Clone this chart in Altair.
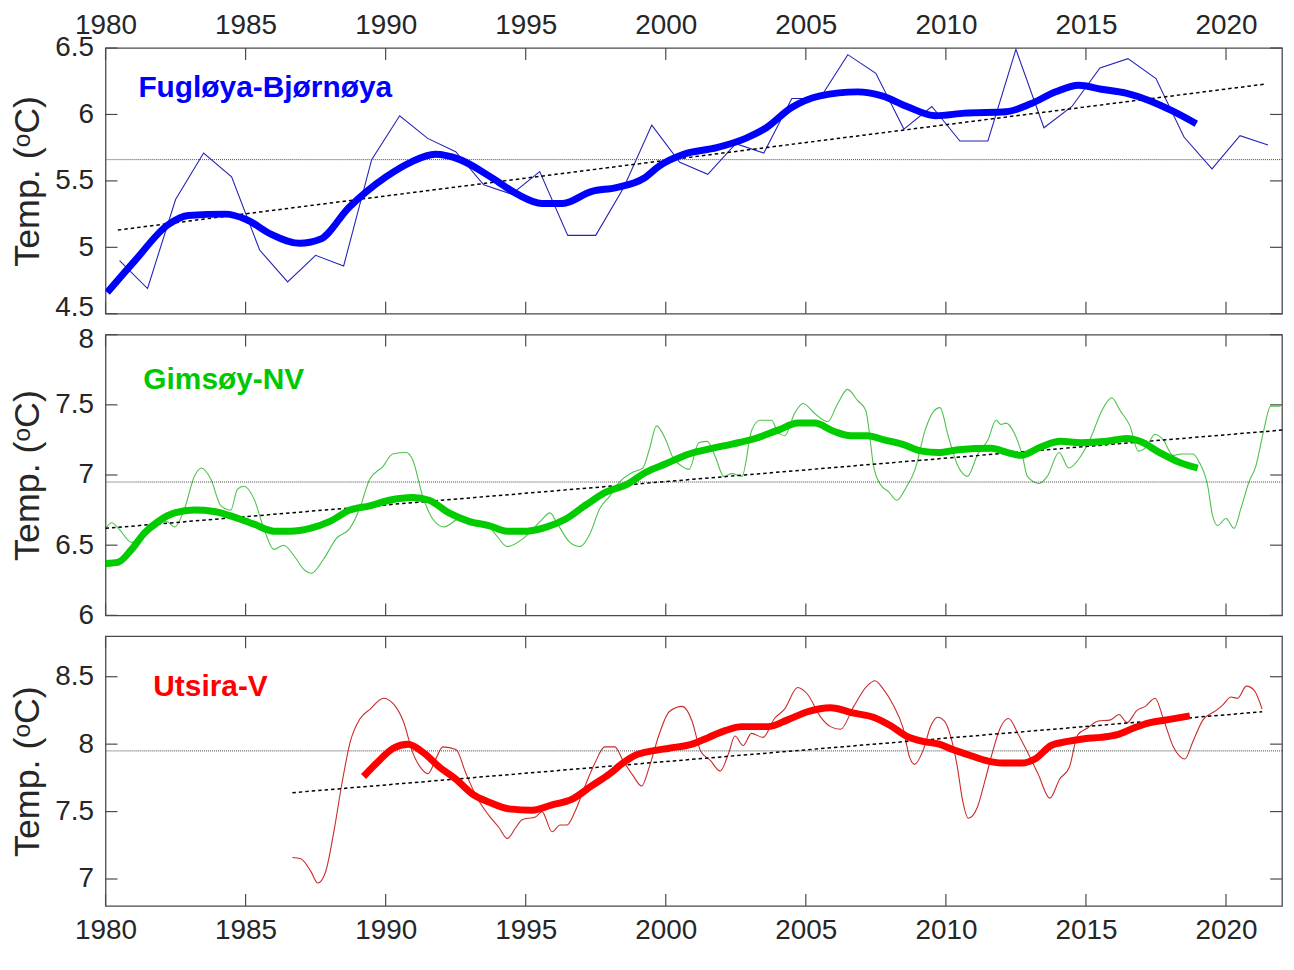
import altair as alt
import pandas as pd

FONT = "Liberation Sans"

# ---------------- x axis ----------------
x_ticks = [1980, 1985, 1990, 1995, 2000, 2005, 2010, 2015, 2020]
x_domain = [1980, 2022]

# ---------------- Panel 1: Fugløya-Bjørnøya ----------------
fb_name = "Fugløya-Bjørnøya"
fb_thin_x = [1980.5, 1981.5, 1982.5, 1983.5, 1984.5, 1985.5, 1986.5, 1987.5, 1988.5, 1989.5,
             1990.5, 1991.5, 1992.5, 1993.5, 1994.5, 1995.5, 1996.5, 1997.5, 1998.5, 1999.5,
             2000.5, 2001.5, 2002.5, 2003.5, 2004.5, 2005.5, 2006.5, 2007.5, 2008.5, 2009.5,
             2010.5, 2011.5, 2012.5, 2013.5, 2014.5, 2015.5, 2016.5, 2017.5, 2018.5, 2019.5,
             2020.5, 2021.5]
fb_thin_y = [4.90, 4.69, 5.36, 5.71, 5.53, 4.98, 4.74, 4.94, 4.86, 5.66,
             5.99, 5.82, 5.72, 5.47, 5.40, 5.57, 5.09, 5.09, 5.45, 5.92,
             5.64, 5.55, 5.78, 5.71, 6.12, 6.12, 6.45, 6.31, 5.89, 6.06,
             5.80, 5.80, 6.49, 5.90, 6.06, 6.35, 6.42, 6.27, 5.83, 5.59,
             5.84, 5.77]
fb_smooth_x = [1980.06, 1981.05, 1982.23, 1982.96, 1984.28, 1985.02, 1985.9, 1986.93, 1987.66,
               1988.69, 1990.01, 1990.89, 1991.77, 1992.65, 1993.82, 1994.7, 1995.58, 1996.32,
               1997.34, 1998.23, 1999.22, 1999.75, 2000.64, 2001.82, 2002.85, 2003.59, 2004.48,
               2005.51, 2006.84, 2007.72, 2008.61, 2009.64, 2010.67, 2012.15, 2013.03, 2013.92,
               2014.74, 2015.55, 2016.43, 2017.32, 2018.05, 2018.94]
fb_smooth_y = [4.66, 4.90, 5.17, 5.24, 5.25, 5.21, 5.10, 5.03, 5.06,
               5.30, 5.53, 5.64, 5.70, 5.66, 5.52, 5.40, 5.33, 5.33,
               5.42, 5.45, 5.52, 5.61, 5.70, 5.75, 5.82, 5.90, 6.05,
               6.14, 6.17, 6.14, 6.06, 5.99, 6.01, 6.02, 6.08, 6.17,
               6.22, 6.19, 6.16, 6.10, 6.03, 5.93]
fb_trend_x = [1980.44, 2021.45]
fb_trend_y = [5.13, 6.23]
fb_mean = [5.66]
fb_y_ticks = [4.5, 5, 5.5, 6, 6.5]
fb_y_domain = [4.5, 6.5]

# ---------------- Panel 2: Gimsøy-NV ----------------
gi_name = "Gimsøy-NV"
gi_thin_x = [1980.01, 1980.22, 1980.46, 1980.93, 1981.40, 1981.76, 1982.17, 1982.47, 1982.82, 1983.17,
             1983.43, 1983.76, 1984.12, 1984.47, 1984.71, 1984.94, 1985.30, 1985.65, 1986.01, 1986.36,
             1986.71, 1987.07, 1987.36, 1987.78, 1988.25, 1988.72, 1989.07, 1989.43, 1989.90, 1990.25,
             1990.73, 1990.96, 1991.32, 1991.67, 1992.08, 1992.73, 1993.30, 1993.75, 1993.99, 1994.34,
             1994.93, 1995.52, 1995.87, 1996.11, 1996.58, 1996.94, 1997.29, 1997.64, 1998.00, 1998.35,
             1998.82, 1999.18, 1999.41, 1999.67, 2000.00, 2000.24, 2000.59, 2000.83, 2001.18, 2001.48,
             2001.77, 2002.07, 2002.36, 2002.72, 2003.07, 2003.37, 2003.78, 2004.01, 2004.25, 2004.60,
             2004.90, 2005.31, 2005.78, 2006.14, 2006.49, 2006.85, 2007.14, 2007.44, 2007.67, 2007.96,
             2008.25, 2008.55, 2008.90, 2009.26, 2009.55, 2009.79, 2010.08, 2010.44, 2010.77, 2011.14,
             2011.50, 2011.79, 2011.97, 2012.15, 2012.44, 2012.74, 2012.91, 2013.33, 2013.62, 2014.04,
             2014.39, 2014.80, 2015.16, 2015.57, 2015.92, 2016.22, 2016.57, 2016.87, 2017.16, 2017.46,
             2017.76, 2018.11, 2018.40, 2018.82, 2019.05, 2019.35, 2019.52, 2019.70, 2020.00, 2020.29,
             2020.53, 2020.82, 2021.06, 2021.35, 2021.59, 2021.95]
gi_thin_y = [6.62, 6.66, 6.62, 6.52, 6.57, 6.62, 6.67, 6.63, 6.76, 6.99,
             7.05, 6.97, 6.78, 6.75, 6.90, 6.92, 6.83, 6.62, 6.47, 6.50,
             6.43, 6.33, 6.30, 6.40, 6.55, 6.62, 6.76, 6.97, 7.06, 7.15,
             7.16, 7.11, 6.85, 6.69, 6.63, 6.70, 6.66, 6.62, 6.56, 6.49,
             6.55, 6.67, 6.73, 6.66, 6.52, 6.49, 6.58, 6.76, 6.85, 6.95,
             7.02, 7.05, 7.18, 7.35, 7.25, 7.13, 7.06, 7.04, 7.23, 7.24,
             7.13, 6.99, 7.01, 6.99, 7.32, 7.39, 7.39, 7.30, 7.28, 7.44,
             7.51, 7.44, 7.38, 7.51, 7.61, 7.53, 7.46, 7.04, 6.93, 6.88,
             6.82, 6.90, 7.04, 7.32, 7.45, 7.48, 7.28, 7.06, 6.99, 7.15,
             7.25, 7.39, 7.36, 7.37, 7.30, 7.13, 6.99, 6.94, 6.99, 7.16,
             7.05, 7.13, 7.26, 7.46, 7.55, 7.46, 7.35, 7.17, 7.20, 7.29,
             7.25, 7.14, 7.15, 7.15, 7.09, 6.92, 6.71, 6.64, 6.69, 6.62,
             6.76, 6.95, 7.06, 7.32, 7.49, 7.49]
gi_smooth_x = [1980.01, 1980.46, 1980.93, 1981.40, 1981.88, 1982.47, 1983.17, 1983.88, 1984.59,
               1985.30, 1986.01, 1986.60, 1987.30, 1988.01, 1988.72, 1989.43, 1990.13, 1990.96,
               1991.55, 1992.26, 1992.97, 1993.68, 1994.34, 1995.05, 1995.76, 1996.46, 1997.17,
               1997.88, 1998.58, 1999.29, 2000.00, 2000.83, 2001.65, 2002.36, 2003.19, 2004.01,
               2004.72, 2005.31, 2006.02, 2006.61, 2007.20, 2007.80, 2008.43, 2009.14, 2009.73,
               2010.44, 2011.62, 2012.21, 2012.68, 2013.39, 2014.09, 2014.80, 2015.75, 2016.45,
               2016.93, 2017.63, 2018.34, 2018.99]
gi_smooth_y = [6.37, 6.38, 6.47, 6.59, 6.67, 6.73, 6.75, 6.74, 6.70,
               6.65, 6.60, 6.60, 6.62, 6.67, 6.75, 6.78, 6.82, 6.84,
               6.82, 6.73, 6.67, 6.64, 6.60, 6.60, 6.63, 6.69, 6.79,
               6.88, 6.93, 7.02, 7.08, 7.15, 7.19, 7.22, 7.26, 7.32,
               7.37, 7.37, 7.31, 7.28, 7.28, 7.25, 7.22, 7.17, 7.16,
               7.18, 7.19, 7.16, 7.14, 7.20, 7.24, 7.23, 7.24, 7.26,
               7.24, 7.16, 7.09, 7.05]
gi_trend_x = [1980.0, 2022.0]
gi_trend_y = [6.62, 7.32]
gi_mean = [6.95]
gi_y_ticks = [6, 6.5, 7, 7.5, 8]
gi_y_domain = [6, 8]

# ---------------- Panel 3: Utsira-V ----------------
ut_name = "Utsira-V"
ut_thin_x = [1986.67, 1986.97, 1987.32, 1987.58, 1987.85, 1988.15, 1988.44, 1988.74, 1989.09, 1989.45,
             1989.92, 1990.27, 1990.63, 1990.98, 1991.27, 1991.51, 1991.81, 1992.04, 1992.51, 1992.87,
             1993.22, 1993.69, 1994.05, 1994.34, 1994.64, 1994.87, 1995.35, 1995.58, 1995.94, 1996.23,
             1996.47, 1996.76, 1997.12, 1997.47, 1997.82, 1998.18, 1998.47, 1998.82, 1999.14, 1999.41,
             1999.76, 2000.12, 2000.59, 2000.94, 2001.24, 2001.59, 2001.94, 2002.24, 2002.47, 2002.76,
             2003.06, 2003.47, 2003.88, 2004.24, 2004.71, 2005.06, 2005.53, 2005.88, 2006.24, 2006.71,
             2007.18, 2007.47, 2007.76, 2008.12, 2008.47, 2008.71, 2008.88, 2009.18, 2009.47, 2009.71,
             2009.95, 2010.18, 2010.41, 2010.59, 2010.80, 2011.12, 2011.41, 2011.65, 2011.94, 2012.24,
             2012.59, 2012.94, 2013.29, 2013.71, 2014.06, 2014.41, 2014.71, 2015.06, 2015.41, 2015.88,
             2016.18, 2016.47, 2016.82, 2017.12, 2017.47, 2017.76, 2018.12, 2018.53, 2018.82, 2019.18,
             2019.65, 2019.88, 2020.18, 2020.41, 2020.73, 2021.00, 2021.29]
ut_thin_y = [7.16, 7.15, 7.06, 6.97, 7.05, 7.35, 7.71, 8.02, 8.19, 8.26,
             8.34, 8.30, 8.17, 7.93, 7.82, 7.78, 7.90, 7.98, 7.96, 7.78,
             7.62, 7.47, 7.38, 7.30, 7.38, 7.44, 7.46, 7.50, 7.35, 7.40,
             7.40, 7.50, 7.69, 7.86, 7.98, 7.98, 7.88, 7.77, 7.69, 7.83,
             8.07, 8.24, 8.28, 8.17, 7.95, 7.88, 7.80, 7.93, 8.06, 7.99,
             8.08, 8.05, 8.19, 8.26, 8.42, 8.37, 8.20, 8.13, 8.11, 8.28,
             8.43, 8.47, 8.41, 8.29, 8.12, 7.90, 7.85, 7.95, 8.14, 8.20,
             8.17, 8.05, 7.83, 7.59, 7.45, 7.53, 7.74, 7.93, 8.12, 8.19,
             8.07, 7.93, 7.78, 7.60, 7.74, 7.83, 8.07, 8.12, 8.17, 8.18,
             8.22, 8.16, 8.25, 8.28, 8.34, 8.19, 7.98, 7.89, 8.02, 8.18,
             8.25, 8.29, 8.35, 8.34, 8.43, 8.40, 8.26]
ut_smooth_x = [1989.21, 1989.68, 1990.27, 1990.80, 1991.33, 1991.92, 1992.51, 1993.10, 1993.69,
               1994.40, 1995.23, 1995.94, 1996.64, 1997.35, 1998.00, 1998.47, 1998.94, 1999.53,
               2000.12, 2000.94, 2001.53, 2002.12, 2002.71, 2003.65, 2004.35, 2005.06, 2005.88,
               2006.71, 2007.41, 2008.00, 2008.59, 2009.18, 2009.76, 2010.24, 2010.82, 2011.41,
               2012.00, 2012.71, 2013.18, 2013.76, 2014.35, 2014.94, 2015.53, 2016.12, 2016.71,
               2017.29, 2017.88, 2018.71]
ut_smooth_y = [7.76, 7.86, 7.97, 8.00, 7.94, 7.83, 7.74, 7.63, 7.57,
               7.52, 7.51, 7.55, 7.59, 7.69, 7.78, 7.86, 7.92, 7.95,
               7.97, 8.00, 8.05, 8.10, 8.13, 8.13, 8.18, 8.24, 8.27,
               8.23, 8.20, 8.14, 8.06, 8.02, 8.00, 7.96, 7.92, 7.88,
               7.86, 7.86, 7.89, 7.99, 8.02, 8.04, 8.05, 8.07, 8.12,
               8.16, 8.18, 8.21]
ut_trend_x = [1986.67, 2021.29]
ut_trend_y = [7.64, 8.24]
ut_mean = [7.95]
ut_y_ticks = [7, 7.5, 8, 8.5]
ut_y_domain = [6.8, 8.8]

W = 1182
AXIS_COLOR = "#262626"
FRAME = "#4a4a4a"
TICK_LEN = 12
Y_TITLE = "Temp. (ᵒC)"


def panel(name, thin_x, thin_y, sm_x, sm_y, tr_x, tr_y, mean, yticks, ydomain, height,
          thick_color, thin_color, label_color, thin_interp, label_dx, label_dy, x_orient,
          label_offset):
    xs = alt.Scale(domain=x_domain, nice=False, zero=False)
    ys = alt.Scale(domain=ydomain, nice=False, zero=False)

    thin_df = pd.DataFrame({"x": thin_x, "y": thin_y})
    sm_df = pd.DataFrame({"x": sm_x, "y": sm_y})
    tr_df = pd.DataFrame({"x": tr_x, "y": tr_y})
    mean_df = pd.DataFrame({"y": mean})
    yt_df = pd.DataFrame({"y": yticks})
    xt_df = pd.DataFrame({"x": x_ticks})
    name_df = pd.DataFrame({"name": [name]})

    if x_orient is None:
        x_axis = None
    else:
        x_axis = alt.Axis(orient=x_orient, values=x_ticks, format="d", title=None,
                          labelPadding=9 if x_orient == "top" else 11)
    y_axis = alt.Axis(values=yticks, format="~g", title=Y_TITLE, labelPadding=12,
                      titlePadding=8, labelOffset=label_offset)

    X = alt.X("x:Q", scale=xs, axis=x_axis, title=None)
    Y = alt.Y("y:Q", scale=ys, axis=y_axis, title=Y_TITLE)

    mean_rule = alt.Chart(mean_df).mark_rule(
        color="#444444", strokeWidth=1, strokeDash=[1, 1]
    ).encode(y=Y)

    trend = alt.Chart(tr_df).mark_line(
        color="black", strokeWidth=1.5, strokeDash=[3.5, 3]
    ).encode(x=X, y=Y)

    thin = alt.Chart(thin_df).mark_line(
        color=thin_color, strokeWidth=1.1, interpolate=thin_interp, clip=True
    ).encode(x=X, y=Y)

    thick = alt.Chart(sm_df).mark_line(
        color=thick_color, strokeWidth=7, interpolate="monotone", clip=True
    ).encode(x=X, y=Y)

    yt_left = alt.Chart(yt_df).mark_rule(color=FRAME, strokeWidth=1.2).encode(
        y=Y, x=alt.value(0), x2=alt.value(TICK_LEN))
    yt_right = alt.Chart(yt_df).mark_rule(color=FRAME, strokeWidth=1.2).encode(
        y=Y, x=alt.value(W - TICK_LEN), x2=alt.value(W))
    xt_top = alt.Chart(xt_df).mark_rule(color=FRAME, strokeWidth=1.2).encode(
        x=X, y=alt.value(0), y2=alt.value(TICK_LEN))
    xt_bot = alt.Chart(xt_df).mark_rule(color=FRAME, strokeWidth=1.2).encode(
        x=X, y=alt.value(height - TICK_LEN), y2=alt.value(height))

    label = alt.Chart(name_df).mark_text(
        align="left", baseline="alphabetic", font=FONT, fontSize=30, fontWeight="bold",
        color=label_color
    ).encode(x=alt.value(label_dx), y=alt.value(label_dy), text="name:N")

    return alt.layer(thin, mean_rule, trend, thick, yt_left, yt_right, xt_top, xt_bot, label
                     ).properties(width=W, height=height)


p1 = panel(fb_name, fb_thin_x, fb_thin_y, fb_smooth_x, fb_smooth_y, fb_trend_x, fb_trend_y,
           fb_mean, fb_y_ticks, fb_y_domain, 267, "#0000FF", "#2424B8", "#0000FF", "linear",
           33, 49, "top",
           {"condition": {"test": "datum.value == 4.5", "value": -6}, "value": 0})
p2 = panel(gi_name, gi_thin_x, gi_thin_y, gi_smooth_x, gi_smooth_y, gi_trend_x, gi_trend_y,
           gi_mean, gi_y_ticks, gi_y_domain, 282, "#00CC00", "#4CC24C", "#00C800", "monotone",
           38, 55, None,
           {"condition": {"test": "datum.value == 8", "value": 5}, "value": 0})
p3 = panel(ut_name, ut_thin_x, ut_thin_y, ut_smooth_x, ut_smooth_y, ut_trend_x, ut_trend_y,
           ut_mean, ut_y_ticks, ut_y_domain, 271, "#FF0000", "#CC2A2A", "#FF0000", "monotone",
           48, 60, "bottom", 0)

chart = alt.vconcat(p1, p2, p3, spacing=21, bounds="flush").properties(
    padding={"left": 1, "top": 0, "right": 0, "bottom": 0}
).configure_view(
    stroke=FRAME, strokeWidth=1.3
).configure_axis(
    grid=False, domain=False, ticks=False,
    labelFont=FONT, labelFontSize=28, labelColor=AXIS_COLOR,
    labelFlush=False, labelOverlap=False,
    titleFont=FONT, titleFontSize=36, titleFontWeight="normal", titleColor=AXIS_COLOR
)

chart.save("out.html", embed_options={"renderer": "svg", "actions": False})
